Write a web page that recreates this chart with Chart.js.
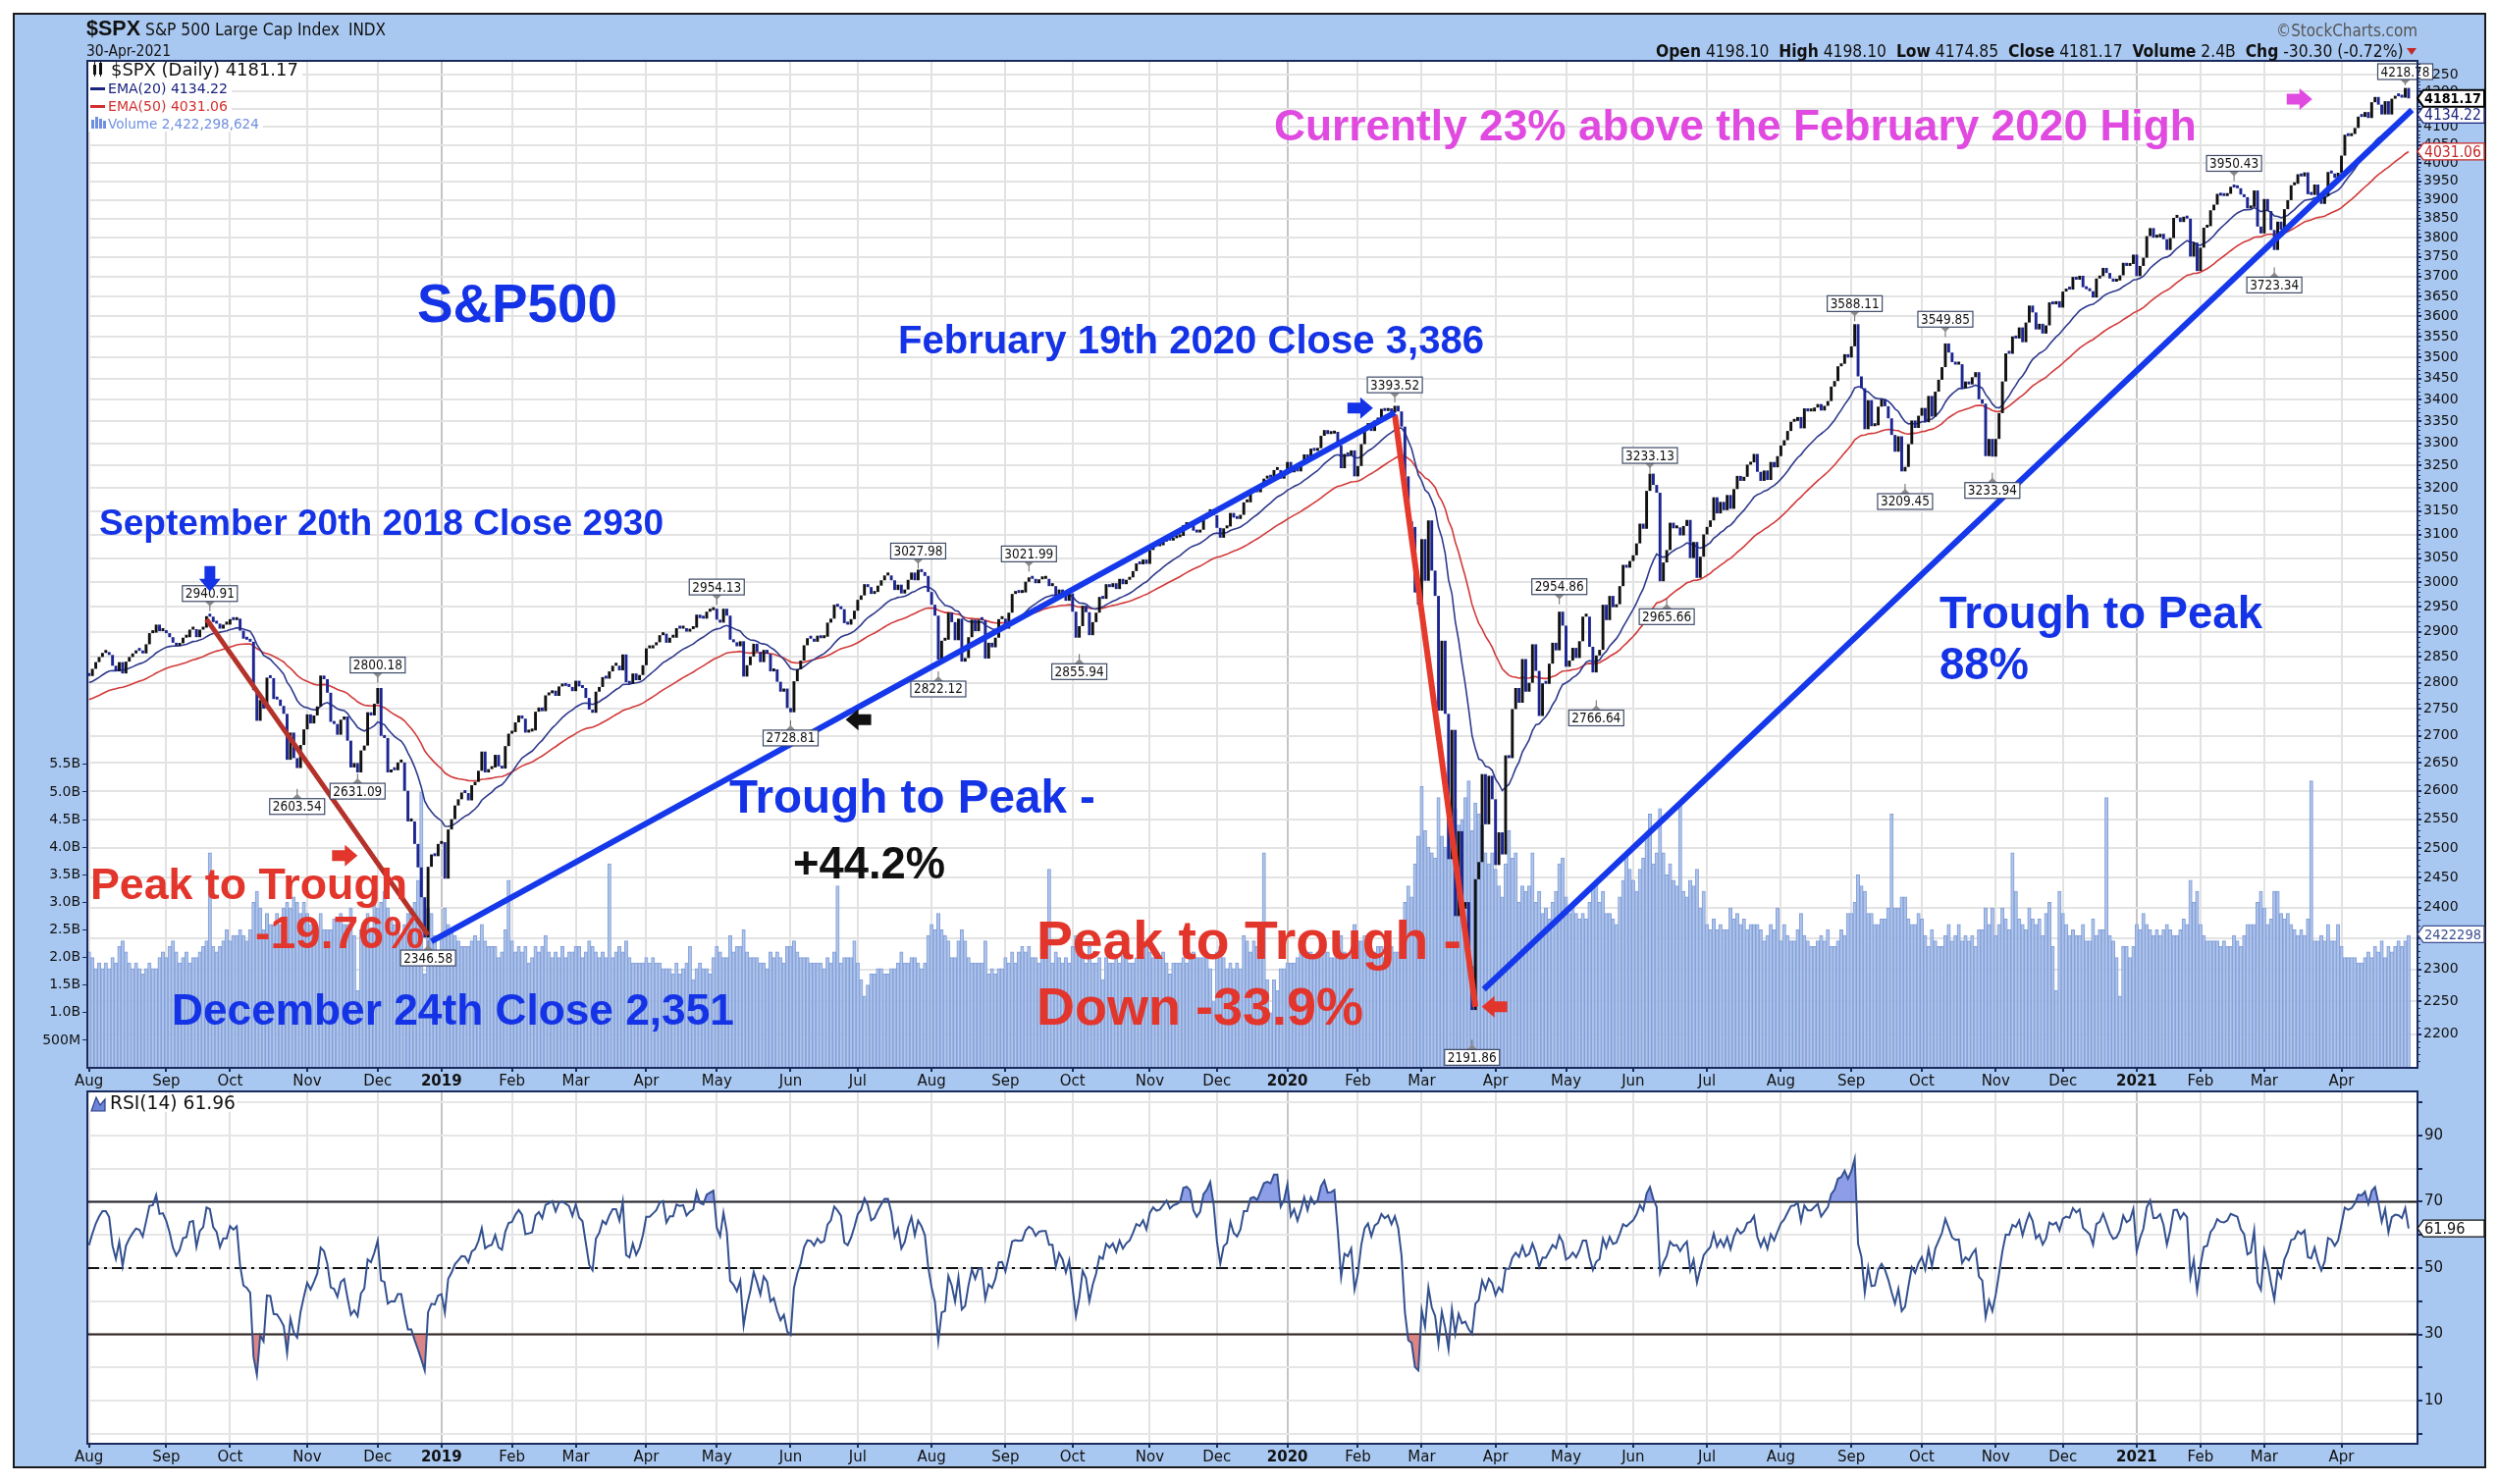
<!DOCTYPE html>
<html>
<head>
<meta charset="utf-8">
<title>$SPX S&amp;P 500 Large Cap Index</title>
<script src="https://cdn.jsdelivr.net/npm/chart.js@4.4.1/dist/chart.umd.min.js"></script>
<style>
  html, body { margin: 0; padding: 0; background: #ffffff; }
  #page { position: relative; width: 2544px; height: 1512px; overflow: hidden; }
  #frame { position: absolute; left: 13px; top: 13px; width: 2516px; height: 1479px; background: #a9c8f1; border: 2px solid #1a1a1a; }
  canvas { position: absolute; left: 0; }
  #priceCanvas { top: 0; }
  #rsiCanvas { top: 1090px; }
</style>
</head>
<body>
<div id="page">
  <div id="frame"></div>
  <canvas id="priceCanvas" width="2544" height="1112" style="width:2544px;height:1112px"></canvas>
  <canvas id="rsiCanvas" width="2544" height="422" style="width:2544px;height:422px"></canvas>
</div>
<script>
// ---- Data ----

// May-Jul 2018 closes, only used to seed the EMA and RSI
const warmupCloses = [
  2655, 2635, 2672, 2663, 2663, 2672, 2671, 2697, 2723, 2730, 2728, 2721, 2711, 2722, 2720, 2733, 2725, 2722, 2721, 2689, 2724, 2705,
  2735, 2747, 2749, 2772, 2770, 2779, 2782, 2786, 2775, 2782, 2780, 2774, 2763, 2767, 2749, 2755, 2717, 2723, 2699, 2716, 2718,
  2726, 2713, 2736, 2760, 2784, 2794, 2775, 2798, 2801, 2798, 2809, 2815, 2804, 2802, 2806, 2820, 2846, 2838, 2819, 2803, 2816
];

// daily closes
const close2018 = [
  2813, 2827, 2840, 2850, 2858, 2858, 2854, 2833, 2822, 2840, 2818, 2841, 2850, 2857, 2863, 2862, 2857, 2875, 2897, 2898, 2914, 2901, 2902,
  2897, 2889, 2878, 2872, 2877, 2888, 2889, 2904, 2905, 2889, 2904, 2908, 2931, 2930, 2919, 2916, 2906, 2914, 2914,
  2925, 2923, 2926, 2902, 2886, 2884, 2880, 2786, 2728, 2767, 2751, 2810, 2809, 2769, 2768, 2756, 2741, 2656, 2706, 2659, 2641, 2683, 2712,
  2740, 2723, 2738, 2755, 2814, 2807, 2781, 2726, 2722, 2702, 2730, 2736, 2691, 2642, 2650, 2633, 2673, 2682, 2744, 2738, 2760,
  2790, 2700, 2696, 2633, 2638, 2637, 2651, 2651, 2600, 2546, 2546, 2507, 2467, 2417, 2351, 2468, 2489, 2486, 2507
];
const close2019 = [
  2510, 2448, 2532, 2550, 2574, 2585, 2597, 2596, 2583, 2610, 2616, 2636, 2671, 2633, 2639, 2642, 2665, 2644, 2640, 2681, 2704,
  2707, 2725, 2738, 2732, 2706, 2708, 2710, 2745, 2753, 2746, 2776, 2780, 2785, 2775, 2793, 2796, 2794, 2792, 2784,
  2804, 2793, 2790, 2771, 2749, 2743, 2783, 2792, 2811, 2808, 2822, 2833, 2833, 2824, 2855, 2801, 2798, 2818, 2805, 2815, 2834,
  2867, 2867, 2873, 2879, 2893, 2896, 2878, 2888, 2888, 2907, 2906, 2907, 2900, 2905, 2908, 2934, 2927, 2926, 2940, 2943, 2946,
  2924, 2918, 2946, 2932, 2884, 2879, 2871, 2881, 2812, 2834, 2851, 2876, 2860, 2840, 2864, 2856, 2822, 2826, 2802, 2783, 2789, 2752,
  2744, 2803, 2826, 2843, 2873, 2887, 2886, 2880, 2892, 2887, 2890, 2918, 2926, 2954, 2950, 2945, 2917, 2914, 2925, 2942,
  2964, 2973, 2996, 2990, 2976, 2980, 2993, 3004, 3014, 3014, 3004, 2984, 2995, 2977, 2985, 3005, 3020, 3004, 3026, 3021, 3013, 2980,
  2954, 2932, 2845, 2882, 2884, 2938, 2919, 2883, 2926, 2841, 2848, 2889, 2924, 2901, 2924, 2923, 2847, 2878, 2869, 2888, 2925, 2926,
  2906, 2938, 2976, 2979, 2978, 2979, 3001, 3010, 3007, 2998, 3006, 3007, 3007, 2992, 2992, 2967, 2985, 2978, 2962, 2977,
  2940, 2888, 2911, 2952, 2939, 2893, 2919, 2938, 2970, 2966, 2996, 2990, 2998, 2986, 3007, 2996, 3005, 3010, 3023, 3039, 3037, 3047, 3038,
  3067, 3078, 3075, 3077, 3085, 3093, 3087, 3092, 3094, 3097, 3120, 3122, 3120, 3108, 3104, 3110, 3134, 3141, 3154, 3141,
  3114, 3093, 3113, 3117, 3146, 3136, 3133, 3142, 3169, 3169, 3191, 3193, 3191, 3205, 3221, 3224, 3223, 3240, 3240, 3221, 3231
];
const close2020 = [
  3258, 3235, 3246, 3237, 3253, 3275, 3265, 3288, 3283, 3289, 3317, 3330, 3321, 3322, 3326, 3295, 3244, 3276, 3273, 3284, 3226,
  3249, 3298, 3335, 3346, 3328, 3352, 3358, 3379, 3374, 3380, 3370, 3386, 3373, 3338, 3226, 3128, 3116, 2979, 2954,
  3090, 3003, 3130, 3024, 2972, 2747, 2882, 2741, 2481, 2711, 2386, 2529, 2398, 2409, 2305, 2237, 2447, 2476, 2630, 2541, 2627, 2585,
  2471, 2527, 2489, 2664, 2659, 2750, 2790, 2762, 2846, 2783, 2800, 2875, 2823, 2737, 2799, 2798, 2837, 2878, 2863, 2940, 2912,
  2831, 2843, 2868, 2848, 2881, 2930, 2930, 2870, 2820, 2853, 2864, 2954, 2923, 2972, 2949, 2955, 2992, 3036, 3030, 3044,
  3056, 3081, 3123, 3112, 3194, 3232, 3207, 3190, 3002, 3041, 3067, 3125, 3113, 3115, 3098, 3118, 3131, 3050, 3084, 3009, 3053, 3100,
  3116, 3130, 3180, 3145, 3170, 3152, 3185, 3155, 3198, 3227, 3216, 3225, 3252, 3257, 3276, 3236, 3216, 3239, 3218, 3258, 3246, 3271,
  3295, 3307, 3328, 3349, 3351, 3360, 3334, 3380, 3373, 3373, 3382, 3390, 3375, 3386, 3397, 3431, 3444, 3479, 3485, 3508, 3500,
  3527, 3581, 3455, 3427, 3332, 3399, 3339, 3341, 3384, 3401, 3385, 3357, 3319, 3281, 3316, 3237, 3247, 3298, 3352, 3335, 3363,
  3381, 3348, 3409, 3361, 3419, 3447, 3477, 3534, 3512, 3489, 3483, 3484, 3427, 3443, 3436, 3453, 3465, 3401, 3391, 3271, 3310, 3270,
  3310, 3369, 3443, 3510, 3509, 3551, 3546, 3573, 3537, 3585, 3627, 3610, 3568, 3582, 3558, 3578, 3635, 3630, 3638, 3622,
  3662, 3669, 3667, 3699, 3692, 3702, 3673, 3668, 3663, 3647, 3695, 3701, 3722, 3709, 3695, 3687, 3690, 3703, 3735, 3727, 3732, 3756
];
const close2021 = [
  3701, 3727, 3748, 3804, 3825, 3800, 3801, 3810, 3796, 3768, 3799, 3852, 3853, 3841, 3855, 3850, 3751, 3787, 3714,
  3774, 3826, 3830, 3872, 3887, 3916, 3911, 3910, 3916, 3935, 3933, 3931, 3914, 3907, 3877, 3881, 3925, 3829, 3811,
  3902, 3870, 3820, 3768, 3842, 3821, 3875, 3899, 3939, 3943, 3969, 3963, 3974, 3915, 3913, 3941, 3911, 3889, 3910, 3975, 3971, 3959, 3973,
  4020, 4078, 4074, 4080, 4097, 4129, 4128, 4142, 4125, 4170, 4185, 4163, 4135, 4173, 4135, 4180, 4188, 4187, 4183, 4211, 4181
];

// daily volume, billions
const vol2018 = [
  2.1, 2.0, 1.8, 1.9, 1.8, 1.9, 1.8, 2.0, 1.9, 2.2, 2.3, 2.1, 1.9, 1.8, 1.9, 1.8, 1.7, 1.8, 1.9, 1.8, 1.8, 2.0, 2.1,
  2.0, 2.2, 2.3, 2.1, 1.9, 2.0, 2.1, 1.9, 2.0, 2.0, 2.1, 2.2, 2.3, 3.9, 2.2, 2.1, 2.2, 2.3, 2.5,
  2.3, 2.4, 2.4, 2.5, 2.4, 2.3, 2.5, 3.0, 3.2, 2.9, 2.5, 2.8, 2.6, 2.6, 2.8, 2.6, 2.9, 3.0, 2.9, 3.1, 3.0, 2.8, 3.0,
  2.8, 2.6, 2.5, 2.4, 2.8, 2.5, 2.5, 2.5, 2.7, 2.7, 2.8, 2.6, 2.6, 2.9, 2.4, 1.4, 2.5, 2.6, 2.8, 2.5, 3.1,
  2.9, 3.0, 3.2, 2.9, 2.7, 2.6, 2.6, 2.4, 2.6, 2.8, 2.9, 3.0, 3.4, 5.0, 1.7, 2.9, 2.8, 2.4, 2.1
];
const vol2019 = [
  2.4, 2.9, 2.6, 2.5, 2.4, 2.3, 2.2, 2.2, 2.2, 2.3, 2.4, 2.3, 2.6, 2.3, 2.2, 2.2, 2.2, 2.0, 2.1, 2.5, 3.4,
  2.3, 2.1, 2.2, 2.1, 2.2, 1.9, 2.0, 2.2, 2.1, 2.2, 2.4, 2.1, 2.0, 2.1, 2.0, 2.2, 2.0, 2.1, 2.1,
  2.2, 2.2, 2.0, 2.1, 2.3, 2.2, 2.1, 2.0, 2.1, 2.0, 3.7, 2.0, 2.1, 2.2, 2.1, 2.3, 2.0, 1.9, 1.9, 1.9, 1.9,
  2.0, 1.9, 2.0, 1.9, 1.9, 1.8, 1.8, 1.8, 1.7, 1.9, 1.7, 1.8, 1.9, 2.2, 1.6, 1.8, 1.9, 1.8, 1.8, 1.7, 2.0,
  2.2, 2.1, 2.0, 2.0, 2.4, 2.1, 2.2, 2.2, 2.5, 2.1, 2.0, 2.0, 2.0, 1.9, 1.9, 1.8, 2.1, 2.0, 2.1, 2.0, 1.9, 2.2,
  2.2, 2.3, 2.1, 2.0, 2.0, 2.0, 1.9, 1.9, 1.9, 1.9, 1.8, 2.0, 1.9, 2.1, 3.3, 1.9, 2.0, 2.0, 2.0, 2.3,
  1.9, 1.6, 1.3, 1.5, 1.7, 1.7, 1.8, 1.8, 1.7, 1.7, 1.8, 1.8, 1.9, 2.1, 1.9, 1.9, 2.0, 2.0, 1.9, 1.8, 1.9, 2.4,
  2.6, 2.5, 2.8, 2.5, 2.4, 2.3, 2.0, 2.0, 2.3, 2.5, 2.3, 2.0, 1.9, 1.9, 1.9, 1.9, 2.3, 1.7, 1.8, 1.7, 1.8, 1.8,
  2.0, 1.9, 2.1, 1.9, 2.1, 2.2, 2.1, 2.2, 2.0, 2.0, 1.9, 2.0, 2.0, 3.6, 1.9, 2.1, 2.0, 1.9, 2.0, 1.9,
  2.2, 2.4, 2.3, 2.0, 1.9, 2.2, 1.9, 1.9, 2.0, 1.6, 2.0, 1.9, 1.9, 2.0, 1.9, 2.1, 2.0, 1.9, 1.9, 2.0, 2.0, 2.0, 2.2,
  2.1, 2.0, 2.0, 2.0, 2.1, 1.9, 1.7, 1.9, 1.9, 1.9, 2.0, 1.9, 2.0, 2.1, 2.0, 2.0, 2.0, 2.0, 1.8, 1.2,
  2.1, 2.2, 2.0, 1.8, 1.9, 1.8, 1.9, 1.8, 2.4, 2.3, 2.1, 2.3, 2.2, 2.2, 3.9, 1.6, 1.0, 1.6, 1.4, 1.8, 1.8
];
const vol2020 = [
  1.9, 1.9, 1.9, 2.0, 2.1, 2.1, 2.1, 2.1, 2.0, 2.1, 2.0, 2.3, 2.1, 2.0, 2.0, 2.2, 2.4, 2.1, 2.0, 2.1, 2.6,
  2.3, 2.3, 2.4, 2.2, 2.1, 2.1, 2.2, 2.2, 2.0, 1.9, 2.2, 2.1, 2.1, 2.3, 3.0, 3.3, 3.1, 3.7, 4.2,
  5.1, 4.3, 4.0, 3.9, 3.8, 4.9, 4.2, 4.0, 4.6, 4.5, 4.7, 4.4, 4.5, 4.9, 5.2, 4.3, 4.8, 4.6, 4.4, 3.9, 3.7, 3.9,
  3.6, 3.3, 3.1, 3.7, 4.3, 3.8, 3.9, 3.0, 3.3, 3.2, 3.3, 3.9, 3.0, 3.2, 2.8, 2.9, 2.7, 3.0, 3.2, 3.7, 3.8,
  3.1, 2.8, 2.9, 2.8, 2.7, 2.8, 2.7, 3.0, 3.3, 3.4, 3.0, 3.2, 2.8, 2.8, 2.7, 2.6, 3.1, 3.4, 3.9, 3.6,
  3.4, 3.2, 3.6, 3.8, 4.2, 4.6, 3.7, 3.9, 4.7, 3.9, 3.5, 3.7, 3.4, 3.3, 4.8, 3.2, 3.1, 3.4, 3.3, 3.6, 2.9, 3.2,
  2.6, 2.5, 2.7, 2.5, 2.6, 2.5, 2.5, 2.9, 2.7, 2.8, 2.6, 2.7, 2.5, 2.6, 2.6, 2.6, 2.5, 2.3, 2.4, 2.6, 2.5, 2.9,
  2.3, 2.6, 2.4, 2.3, 2.3, 2.5, 2.8, 2.4, 2.3, 2.2, 2.2, 2.3, 2.4, 2.3, 2.5, 2.2, 2.2, 2.3, 2.5, 2.4, 2.8,
  2.8, 3.0, 3.5, 3.3, 3.2, 2.8, 2.8, 2.6, 2.6, 2.7, 2.7, 2.9, 4.6, 2.9, 2.9, 3.1, 3.1, 2.7, 2.6, 2.6, 2.8,
  2.7, 2.4, 2.2, 2.5, 2.3, 2.2, 2.2, 2.4, 2.6, 2.3, 2.4, 2.6, 2.3, 2.4, 2.3, 2.4, 2.2, 2.5, 2.5, 2.9, 2.6, 2.9,
  2.4, 2.6, 2.9, 2.7, 2.5, 3.9, 3.2, 2.7, 2.6, 2.5, 2.9, 2.7, 2.6, 2.7, 2.4, 2.8, 3.0, 2.2, 1.4, 3.2,
  2.8, 2.6, 2.4, 2.5, 2.4, 2.4, 2.6, 2.3, 2.3, 2.7, 2.4, 2.5, 2.5, 4.9, 2.4, 2.3, 2.0, 1.3, 2.2, 2.2, 2.0, 2.2
];
const vol2021 = [
  2.6, 2.5, 2.8, 2.6, 2.5, 2.4, 2.5, 2.4, 2.5, 2.6, 2.5, 2.4, 2.4, 2.5, 2.7, 2.6, 3.4, 3.0, 3.2,
  2.6, 2.4, 2.3, 2.3, 2.3, 2.3, 2.2, 2.3, 2.2, 2.2, 2.4, 2.3, 2.2, 2.4, 2.6, 2.6, 2.6, 3.0, 3.2,
  2.9, 2.6, 2.7, 3.2, 3.2, 2.8, 2.7, 2.8, 2.6, 2.5, 2.4, 2.5, 2.4, 2.7, 5.2, 2.3, 2.3, 2.4, 2.3, 2.6, 2.3, 2.3, 2.6,
  2.2, 2.0, 2.0, 2.0, 2.0, 1.9, 1.9, 2.0, 2.1, 2.0, 2.2, 2.1, 2.3, 2.0, 2.2, 2.1, 2.2, 2.3, 2.2, 2.3, 2.4
];

// month axis: label and number of trading days in each month
const monthLabels = ['Aug', 'Sep', 'Oct', 'Nov', 'Dec',
  '2019', 'Feb', 'Mar', 'Apr', 'May', 'Jun', 'Jul', 'Aug', 'Sep', 'Oct', 'Nov', 'Dec',
  '2020', 'Feb', 'Mar', 'Apr', 'May', 'Jun', 'Jul', 'Aug', 'Sep', 'Oct', 'Nov', 'Dec',
  '2021', 'Feb', 'Mar', 'Apr'];
const monthDays = [23, 19, 23, 21, 19,
  21, 19, 21, 21, 22, 20, 22, 22, 20, 23, 20, 21,
  21, 19, 22, 21, 20, 22, 22, 21, 21, 22, 20, 22,
  19, 19, 23, 21];

const priceTicks = [2200, 2250, 2300, 2350, 2400, 2450, 2500, 2550, 2600, 2650, 2700, 2750, 2800, 2850,
  2900, 2950, 3000, 3050, 3100, 3150, 3200, 3250, 3300, 3350, 3400, 3450, 3500, 3550, 3600, 3650,
  3700, 3750, 3800, 3850, 3900, 3950, 4000, 4050, 4100, 4150, 4200, 4250];
const volumeTicks = [0.5, 1, 1.5, 2, 2.5, 3, 3.5, 4, 4.5, 5, 5.5];
const volumeTickLabels = ['500M', '1.0B', '1.5B', '2.0B', '2.5B', '3.0B', '3.5B', '4.0B', '4.5B', '5.0B', '5.5B'];
const rsiTicks = [0, 10, 20, 30, 40, 50, 60, 70, 80, 90, 100];
const rsiTickLabels = ['', '10', '', '30', '', '50', '', '70', '', '90', ''];

// swing highs / lows flagged by the chart (trading-day index, value)
const swingIndex = [36, 62, 80, 86, 101, 187, 209, 247, 253, 280, 295, 389, 412, 438, 449, 465, 470, 526, 541, 553, 567, 639, 651, 690];
const swingValue = [2940.91, 2603.54, 2631.09, 2800.18, 2346.58, 2954.13, 2728.81, 3027.98, 2822.12, 3021.99, 2855.94, 3393.52,
  2191.86, 2954.86, 2766.64, 3233.13, 2965.66, 3588.11, 3209.45, 3549.85, 3233.94, 3950.43, 3723.34, 4218.78];
const swingIsHigh = [true, false, false, true, false, true, false, true, false, true, false, true,
  false, true, false, true, false, true, false, true, false, true, false, true];

// hand-drawn trend lines: [trading-day index, price]
const redLine2018 = [[35, 2925], [101, 2355]];
const blueLine2019 = [[102, 2345], [389, 3370]];
const redLine2020 = [[389, 3365], [413, 2242]];
const blueLine2020 = [[415.5, 2269], [692, 4148]];

// last values shown in the legend / axis tags
const lastClose = 4181.17, lastEma20 = 4134.22, lastEma50 = 4031.06, lastVolume = 2.422298624, lastRsi = 61.96;

// ---- Styles ----
const FONT_UI = '"DejaVu Sans", Verdana, sans-serif';
const FONT_NARROW = '"Liberation Sans Narrow", "Arial Narrow", "DejaVu Sans Condensed", "Liberation Sans", sans-serif';
const FONT_BIG = '"Liberation Sans", Arial, Helvetica, sans-serif';
const BLUE = '#1533e6', RED = '#e2352b', MAGENTA = '#e04ae0', NAVY = '#1b2a5c';

const notes = [
  { text: 'Currently 23% above the February 2020 High', x: 1298, y: 127, w: 940, color: MAGENTA },
  { text: 'S&P500', x: 425, y: 308, w: 204, color: BLUE },
  { text: 'February 19th 2020 Close 3,386', x: 915, y: 346, w: 597, color: BLUE },
  { text: 'September 20th 2018 Close 2930', x: 101, y: 532, w: 575, color: BLUE },
  { text: 'Trough to Peak -', x: 743, y: 811, w: 373, color: BLUE },
  { text: '+44.2%', x: 808, y: 879, w: 155, color: '#111111' },
  { text: 'Peak to Trough', x: 92, y: 900, w: 323, color: RED },
  { text: '-19.76%', x: 260, y: 949, w: 172, color: RED },
  { text: 'December 24th Close 2,351', x: 175, y: 1028, w: 573, color: BLUE },
  { text: 'Peak to Trough -', x: 1056, y: 957, w: 433, color: RED },
  { text: 'Down -33.9%', x: 1056, y: 1025, w: 333, color: RED },
  { text: 'Trough to Peak', x: 1976, y: 624, w: 329, color: BLUE },
  { text: '88%', x: 1976, y: 676, w: 91, color: BLUE }
];
const arrowMarks = [
  { at: [36, 2981], dir: 'down', color: BLUE },
  { at: [80, 2487], dir: 'right', color: RED },
  { at: [225.4, 2730], dir: 'left', color: '#111111' },
  { at: [382.5, 3381], dir: 'right', color: BLUE },
  { at: [414.9, 2242], dir: 'left', color: RED },
  { at: [662.3, 4179], dir: 'right', color: MAGENTA }
];

// ---- Derived series ----
const closes = [].concat(close2018, close2019, close2020, close2021);
const volumes = [].concat(vol2018, vol2019, vol2020, vol2021);
const seeded = warmupCloses.concat(closes);

function ema(src, n) {
  const k = 2 / (n + 1);
  let e = src[0];
  return src.map((v, i) => (e = i === 0 ? v : v * k + e * (1 - k)));
}
function rsiWilder(src, n) {
  const out = src.map(() => null);
  let g = 0, l = 0;
  for (let i = 1; i <= n; i++) { const d = src[i] - src[i - 1]; if (d > 0) g += d; else l -= d; }
  g /= n; l /= n;
  out[n] = 100 - 100 / (1 + g / l);
  for (let i = n + 1; i < src.length; i++) {
    const d = src[i] - src[i - 1];
    g = (g * (n - 1) + Math.max(d, 0)) / n;
    l = (l * (n - 1) + Math.max(-d, 0)) / n;
    out[i] = l === 0 ? 100 : 100 - 100 / (1 + g / l);
  }
  return out;
}
const skip = warmupCloses.length;
const ema20 = ema(seeded, 20).slice(skip);
const ema50 = ema(seeded, 50).slice(skip);
const rsi14 = rsiWilder(seeded, 14).slice(skip);

const monthStart = [];
monthDays.reduce((acc, d) => { monthStart.push(acc); return acc + d; }, 0);
const labelAt = new Map(monthStart.map((s, k) => [s, monthLabels[k]]));
const yearStarts = new Set(monthStart.filter((s, k) => /^\d{4}$/.test(monthLabels[k])));
const xMax = -0.5 + 2374 / 3.42;

const prevClose = i => (i > 0 ? closes[i - 1] : warmupCloses[warmupCloses.length - 1]);
const isUp = i => closes[i] >= prevClose(i);
const pts = arr => arr.map((v, i) => ({ x: i, y: v }));
const seg = arr => arr.map(p => ({ x: p[0], y: p[1] }));

// ---- Drawing helpers ----
function fitFont(ctx, text, width, weight, family) {
  ctx.font = weight + ' 40px ' + family;
  const size = 40 * width / ctx.measureText(text).width;
  ctx.font = weight + ' ' + size.toFixed(2) + 'px ' + family;
  return size;
}
function blockArrow(ctx, tx, ty, dir, color) {
  const L = 26, H = 22, sh = 11, hl = 13;
  ctx.save();
  ctx.translate(tx, ty);
  ctx.rotate({ right: 0, down: Math.PI / 2, left: Math.PI, up: -Math.PI / 2 }[dir]);
  ctx.beginPath();
  ctx.moveTo(0, 0); ctx.lineTo(-hl, -H / 2); ctx.lineTo(-hl, -sh / 2); ctx.lineTo(-L, -sh / 2);
  ctx.lineTo(-L, sh / 2); ctx.lineTo(-hl, sh / 2); ctx.lineTo(-hl, H / 2); ctx.closePath();
  ctx.fillStyle = color; ctx.fill();
  ctx.restore();
}
function swingLabel(ctx, x, y, text, high, top) {
  ctx.save();
  fitFont(ctx, text, 50, 'normal', FONT_NARROW);
  const w = 56, h = 16;
  let by = high ? y - 10 - h : y + 10;
  if (high && by < top + 3) by = top + 3;
  const edge = high ? by + h : by;
  ctx.strokeStyle = '#666'; ctx.lineWidth = 1;
  ctx.beginPath(); ctx.moveTo(x, edge); ctx.lineTo(x, y); ctx.stroke();
  ctx.fillStyle = '#8a8a8a';
  ctx.beginPath();
  if (high) { ctx.moveTo(x - 5, edge); ctx.lineTo(x, edge + 5); ctx.lineTo(x + 5, edge); }
  else { ctx.moveTo(x - 5, edge); ctx.lineTo(x, edge - 5); ctx.lineTo(x + 5, edge); }
  ctx.closePath(); ctx.fill();
  ctx.fillStyle = '#ffffff'; ctx.fillRect(x - w / 2, by, w, h);
  ctx.strokeStyle = '#3e4a66'; ctx.lineWidth = 1.2; ctx.strokeRect(x - w / 2, by, w, h);
  ctx.fillStyle = '#111'; ctx.textAlign = 'center'; ctx.textBaseline = 'middle';
  ctx.fillText(text, x, by + h / 2 + 1);
  ctx.restore();
}
function axisTag(ctx, x0, y, text, color, bold) {
  ctx.save();
  const h = 17, x1 = x0 + 6, x2 = 2531;
  ctx.beginPath();
  ctx.moveTo(x0, y); ctx.lineTo(x1, y - h / 2); ctx.lineTo(x2, y - h / 2); ctx.lineTo(x2, y + h / 2); ctx.lineTo(x1, y + h / 2); ctx.closePath();
  ctx.fillStyle = '#ffffff'; ctx.fill();
  ctx.strokeStyle = color; ctx.lineWidth = bold ? 2 : 1.3; ctx.stroke();
  ctx.fillStyle = color; ctx.textBaseline = 'middle'; ctx.textAlign = 'left';
  fitFont(ctx, text, Math.min(58, text.length * 8.3), bold ? 'bold' : 'normal', FONT_NARROW);
  ctx.fillText(text, x1 + 1, y + 1);
  ctx.restore();
}

const panelPlugin = {
  id: 'panel',
  beforeDraw(chart) {
    const { ctx, chartArea: a } = chart;
    ctx.save(); ctx.fillStyle = '#ffffff';
    ctx.fillRect(a.left, a.top, a.right - a.left, a.bottom - a.top); ctx.restore();
  },
  afterDraw(chart) {
    const { ctx, chartArea: a } = chart;
    ctx.save(); ctx.strokeStyle = NAVY; ctx.lineWidth = 2;
    ctx.strokeRect(a.left, a.top, a.right - a.left, a.bottom - a.top); ctx.restore();
  }
};

const priceDecor = {
  id: 'priceDecor',
  afterDatasetsDraw(chart) {
    const { ctx, chartArea: a } = chart;
    const xs = chart.scales.x, ys = chart.scales.y;
    swingIndex.forEach((si, k) => swingLabel(ctx, xs.getPixelForValue(si), ys.getPixelForValue(swingValue[k]),
      swingValue[k].toFixed(2), swingIsHigh[k], a.top));
    arrowMarks.forEach(m => blockArrow(ctx, xs.getPixelForValue(m.at[0]), ys.getPixelForValue(m.at[1]), m.dir, m.color));
    ctx.save();
    ctx.textAlign = 'left'; ctx.textBaseline = 'alphabetic';
    notes.forEach(n => {
      const size = fitFont(ctx, n.text, n.w, 'bold', FONT_BIG);
      ctx.fillStyle = n.color;
      ctx.fillText(n.text, n.x, n.y + size * 0.36);
    });
    ctx.restore();

    // legend block
    ctx.save();
    const legend = [
      { text: '$SPX (Daily) ' + lastClose.toFixed(2), x: 113, y: 77, w: 191, color: '#111' },
      { text: 'EMA(20) ' + lastEma20.toFixed(2), x: 110, y: 95, w: 122, color: '#1a237e' },
      { text: 'EMA(50) ' + lastEma50.toFixed(2), x: 110, y: 113, w: 122, color: '#d32f2f' },
      { text: 'Volume 2,422,298,624', x: 110, y: 131, w: 154, color: '#6f8fe0' }
    ];
    legend.forEach(l => {
      ctx.fillStyle = '#ffffff';
      ctx.fillRect(a.left + 1, l.y - 15, l.x + l.w + 3 - a.left, 18);
    });
    legend.forEach(l => {
      fitFont(ctx, l.text, l.w, 'normal', FONT_UI);
      ctx.fillStyle = l.color;
      ctx.fillText(l.text, l.x, l.y);
    });
    // icons
    ctx.fillStyle = '#111'; ctx.fillRect(95, 66, 3, 10); ctx.fillRect(101, 64, 3, 12); ctx.fillRect(96, 63, 1, 15); ctx.fillRect(102, 61, 1, 17);
    ctx.fillStyle = '#1a237e'; ctx.fillRect(92, 89, 15, 3);
    ctx.fillStyle = '#d32f2f'; ctx.fillRect(92, 107, 15, 3);
    ctx.fillStyle = '#6f8fe0'; ctx.fillRect(93, 122, 3, 9); ctx.fillRect(97, 119, 3, 12); ctx.fillRect(101, 121, 3, 10); ctx.fillRect(105, 123, 3, 8);
    ctx.restore();
  },
  afterDraw(chart) {
    const { ctx, chartArea: a } = chart;
    const ys = chart.scales.y, yv = chart.scales.yv;
    ctx.save();
    // minor ticks on the price axis
    ctx.strokeStyle = NAVY; ctx.lineWidth = 1;
    for (let p = 2160; p <= 4280; p += 10) {
      const yy = Math.round(ys.getPixelForValue(p)) + 0.5;
      ctx.beginPath(); ctx.moveTo(a.right, yy); ctx.lineTo(a.right + 3, yy); ctx.stroke();
    }
    // header
    ctx.fillStyle = '#111'; ctx.textAlign = 'left'; ctx.textBaseline = 'alphabetic';
    fitFont(ctx, '$SPX', 55, 'bold', FONT_BIG); ctx.fillText('$SPX', 88, 36);
    fitFont(ctx, 'S&P 500 Large Cap Index', 198, 'normal', FONT_NARROW); ctx.fillText('S&P 500 Large Cap Index', 148, 36);
    fitFont(ctx, 'INDX', 38, 'normal', FONT_NARROW); ctx.fillText('INDX', 355, 36);
    fitFont(ctx, '30-Apr-2021', 86, 'normal', FONT_NARROW); ctx.fillText('30-Apr-2021', 88, 57);
    ctx.fillStyle = '#555';
    ctx.textAlign = 'right';
    fitFont(ctx, '\u00a9StockCharts.com', 144, 'normal', FONT_NARROW); ctx.fillText('\u00a9StockCharts.com', 2463, 37);
    // quote row
    const row = [['Open', 1], [' 4198.10  ', 0], ['High', 1], [' 4198.10  ', 0], ['Low', 1], [' 4174.85  ', 0],
      ['Close', 1], [' 4181.17  ', 0], ['Volume', 1], [' 2.4B  ', 0], ['Chg', 1], [' -30.30 (-0.72%)', 0]];
    const fnt = b => (b ? 'bold ' : '') + '16px ' + FONT_NARROW;
    let total = 0;
    row.forEach(r => { ctx.font = fnt(r[1]); total += ctx.measureText(r[0]).width; });
    const scale = 762 / total;
    let cx = 1687;
    ctx.textAlign = 'left'; ctx.fillStyle = '#111';
    row.forEach(r => {
      ctx.font = (r[1] ? 'bold ' : '') + (16 * scale).toFixed(2) + 'px ' + FONT_NARROW;
      ctx.fillText(r[0], cx, 58);
      cx += ctx.measureText(r[0]).width;
    });
    ctx.fillStyle = '#c62828';
    ctx.beginPath(); ctx.moveTo(2452, 49); ctx.lineTo(2462, 49); ctx.lineTo(2457, 56); ctx.closePath(); ctx.fill();
    ctx.restore();
    // value tags on the right axis
    axisTag(ctx, a.right, yv.getPixelForValue(lastVolume), '2422298', '#3b4f8f', false);
    axisTag(ctx, a.right, ys.getPixelForValue(lastEma50), lastEma50.toFixed(2), '#c62828', false);
    axisTag(ctx, a.right, ys.getPixelForValue(lastEma20), lastEma20.toFixed(2), '#1a237e', false);
    axisTag(ctx, a.right, ys.getPixelForValue(lastClose), lastClose.toFixed(2), '#000000', true);
  }
};

const rsiDecor = {
  id: 'rsiDecor',
  beforeDatasetsDraw(chart) {
    const { ctx, chartArea: a } = chart;
    const ys = chart.scales.y;
    ctx.save();
    ctx.strokeStyle = '#111'; ctx.lineWidth = 2;
    [70, 30].forEach(v => {
      const yy = ys.getPixelForValue(v);
      ctx.beginPath(); ctx.moveTo(a.left, yy); ctx.lineTo(a.right, yy); ctx.stroke();
    });
    ctx.setLineDash([12, 5, 3, 5]);
    const y50 = ys.getPixelForValue(50);
    ctx.beginPath(); ctx.moveTo(a.left, y50); ctx.lineTo(a.right, y50); ctx.stroke();
    ctx.restore();
  },
  afterDraw(chart) {
    const { ctx, chartArea: a } = chart;
    const ys = chart.scales.y;
    ctx.save();
    ctx.fillStyle = '#ffffff'; ctx.fillRect(a.left + 2, a.top + 3, 150, 18);
    ctx.fillStyle = '#6d85d8';
    ctx.beginPath(); ctx.moveTo(93, a.top + 20); ctx.lineTo(98, a.top + 6); ctx.lineTo(102, a.top + 14); ctx.lineTo(107, a.top + 8); ctx.lineTo(107, a.top + 20); ctx.closePath(); ctx.fill();
    ctx.strokeStyle = '#2b3f86'; ctx.lineWidth = 1.2; ctx.stroke();
    ctx.fillStyle = '#111'; ctx.textAlign = 'left'; ctx.textBaseline = 'alphabetic';
    fitFont(ctx, 'RSI(14) ' + lastRsi.toFixed(2), 128, 'normal', FONT_UI);
    ctx.fillText('RSI(14) ' + lastRsi.toFixed(2), 112, a.top + 18);
    ctx.restore();
    axisTag(ctx, a.right, ys.getPixelForValue(lastRsi), lastRsi.toFixed(2), '#111111', false);
  }
};

function monthAxis() {
  return {
    type: 'linear', position: 'bottom', min: -0.5, max: xMax, bounds: 'data', offset: false,
    afterBuildTicks: s => { s.ticks = monthStart.map(v => ({ value: v })); },
    afterFit: s => { s.height = 22; },
    border: { display: false },
    grid: {
      offset: false,
      color: c => (c.tick && yearStarts.has(c.tick.value)) ? '#c4c4c4' : '#e2e2e2',
      lineWidth: 2, drawTicks: true, tickLength: 4, tickColor: NAVY
    },
    ticks: {
      autoSkip: false, maxRotation: 0, minRotation: 0, padding: 1, color: '#111111',
      font: c => ({ family: FONT_UI, size: 15, weight: (c.tick && yearStarts.has(c.tick.value)) ? 'bold' : 'normal' }),
      callback: v => labelAt.get(v) || ''
    }
  };
}

// ---- Price panel ----
new Chart(document.getElementById('priceCanvas'), {
  data: {
    datasets: [
      {
        type: 'bar', yAxisID: 'yv', order: 10, grouped: false,
        data: pts(volumes),
        backgroundColor: 'rgba(170,193,234,0.85)', borderColor: 'rgba(128,157,215,0.95)',
        borderWidth: { left: 1, right: 1, top: 1, bottom: 0 },
        barPercentage: 1, categoryPercentage: 1
      },
      { type: 'line', yAxisID: 'y', order: 6, data: pts(ema50), borderColor: '#d23a3a', borderWidth: 1.6, pointRadius: 0 },
      { type: 'line', yAxisID: 'y', order: 5, data: pts(ema20), borderColor: '#2e3a8c', borderWidth: 1.6, pointRadius: 0 },
      {
        type: 'bar', yAxisID: 'y', order: 4, grouped: false,
        data: closes.map((c, i) => ({ x: i, y: [prevClose(i), c] })),
        backgroundColor: closes.map((c, i) => (isUp(i) ? '#111111' : '#1c2590')),
        barPercentage: 0.85, categoryPercentage: 1, minBarLength: 3
      },
      { type: 'line', yAxisID: 'y', order: 1, data: seg(redLine2018), borderColor: '#b5322b', borderWidth: 5, pointRadius: 0 },
      { type: 'line', yAxisID: 'y', order: 1, data: seg(blueLine2019), borderColor: '#1538ea', borderWidth: 6, pointRadius: 0 },
      { type: 'line', yAxisID: 'y', order: 1, data: seg(redLine2020), borderColor: '#e5392b', borderWidth: 6, pointRadius: 0 },
      { type: 'line', yAxisID: 'y', order: 1, data: seg(blueLine2020), borderColor: '#1538ea', borderWidth: 6, pointRadius: 0 }
    ]
  },
  options: {
    responsive: false, animation: false, devicePixelRatio: 1,
    layout: { padding: { top: 62, bottom: 2, left: 0, right: 0 } },
    plugins: { legend: { display: false }, tooltip: { enabled: false } },
    elements: { line: { tension: 0 }, point: { radius: 0 } },
    scales: {
      x: monthAxis(),
      y: {
        type: 'logarithmic', position: 'right', min: 2150, max: 4290, bounds: 'data',
        afterBuildTicks: s => { s.ticks = priceTicks.map(v => ({ value: v })); },
        afterFit: s => { s.width = 81; },
        border: { display: false },
        grid: { color: '#e3e3e3', lineWidth: 2, tickLength: 4, tickColor: NAVY },
        ticks: { autoSkip: false, padding: 2, color: '#111111', font: { family: FONT_UI, size: 14 }, callback: v => String(v) }
      },
      yv: {
        type: 'linear', position: 'left', min: 0, max: 18.25, bounds: 'data',
        afterBuildTicks: s => { s.ticks = volumeTicks.map(v => ({ value: v })); },
        afterFit: s => { s.width = 89; },
        border: { display: false },
        grid: { drawOnChartArea: false, tickLength: 5, tickColor: NAVY },
        ticks: {
          autoSkip: false, padding: 2, color: '#111111', font: { family: FONT_UI, size: 14 },
          callback: v => volumeTickLabels[volumeTicks.indexOf(v)]
        }
      }
    }
  },
  plugins: [panelPlugin, priceDecor]
});

// ---- RSI panel ----
new Chart(document.getElementById('rsiCanvas'), {
  type: 'line',
  data: {
    datasets: [
      {
        data: pts(rsi14), borderColor: '#33508f', borderWidth: 2, pointRadius: 0,
        fill: { target: { value: 70 }, above: 'rgba(112,132,226,0.8)', below: 'rgba(0,0,0,0)' }
      },
      {
        data: pts(rsi14), borderColor: 'rgba(0,0,0,0)', borderWidth: 0, pointRadius: 0,
        fill: { target: { value: 30 }, above: 'rgba(0,0,0,0)', below: 'rgba(214,112,112,0.85)' }
      }
    ]
  },
  options: {
    responsive: false, animation: false, devicePixelRatio: 1,
    layout: { padding: { top: 22, bottom: 19, left: 89, right: 0 } },
    plugins: { legend: { display: false }, tooltip: { enabled: false }, filler: { propagate: false } },
    elements: { line: { tension: 0 }, point: { radius: 0 } },
    scales: {
      x: monthAxis(),
      y: {
        type: 'linear', position: 'right', min: -3, max: 103.3, bounds: 'data',
        afterBuildTicks: s => { s.ticks = rsiTicks.map(v => ({ value: v })); },
        afterFit: s => { s.width = 81; },
        border: { display: false },
        grid: { color: '#e6e6e6', lineWidth: 2, tickLength: 5, tickColor: NAVY },
        ticks: {
          autoSkip: false, padding: 2, color: '#111111', font: { family: FONT_UI, size: 15 },
          callback: v => rsiTickLabels[rsiTicks.indexOf(v)]
        }
      }
    }
  },
  plugins: [panelPlugin, rsiDecor]
});
</script>
</body>
</html>
